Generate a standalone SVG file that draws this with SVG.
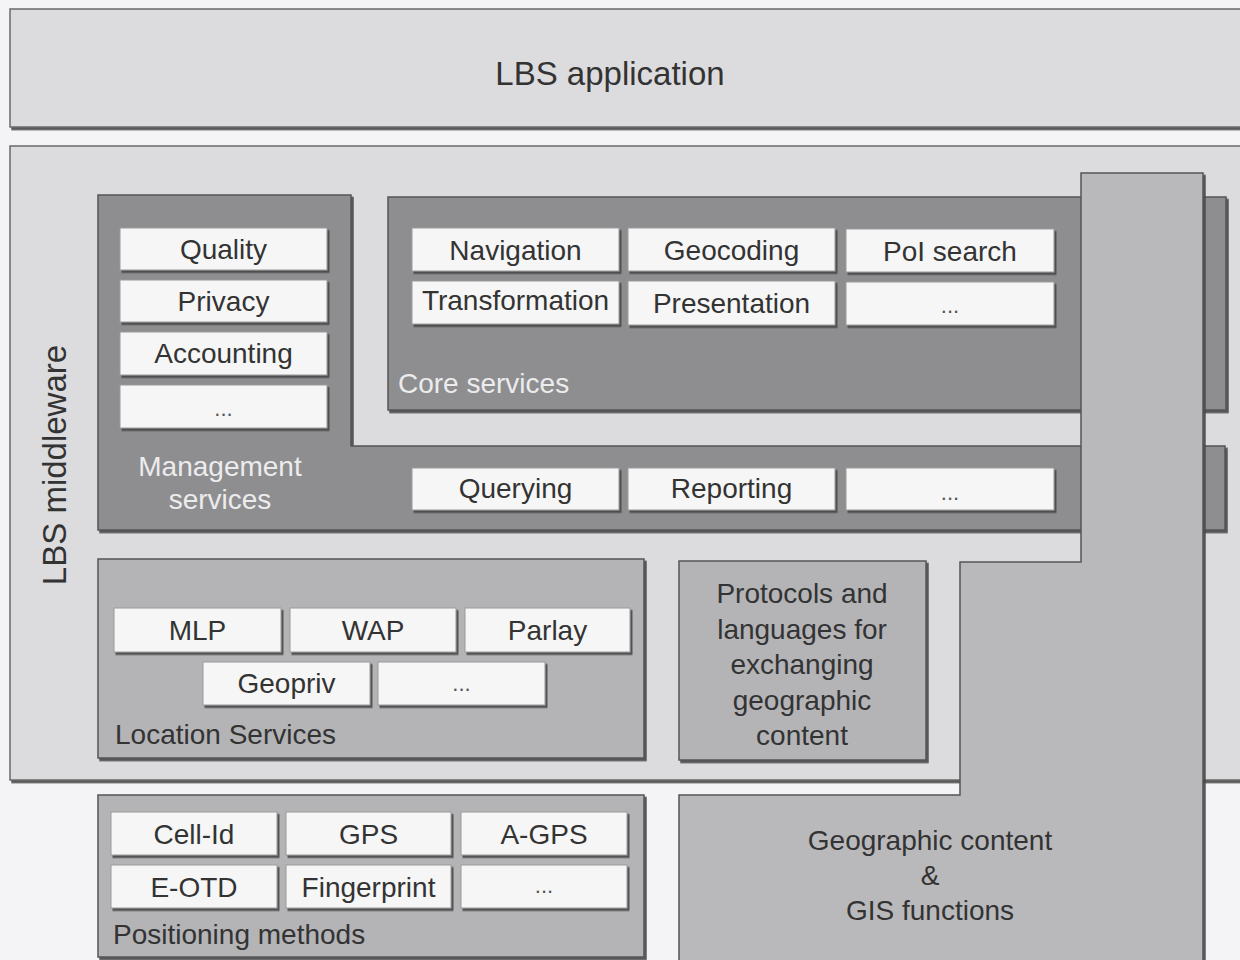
<svg xmlns="http://www.w3.org/2000/svg" width="1240" height="960" viewBox="0 0 1240 960">
<defs>
<filter id="sh" x="-5%" y="-5%" width="110%" height="120%">
<feDropShadow dx="2" dy="2.5" stdDeviation="0.4" flood-color="#4a4a4a" flood-opacity="0.9"/>
</filter>
<style>
text{font-family:"Liberation Sans",Arial,sans-serif;}
.layer{fill:#dcdcdf;stroke:#6a6a6a;stroke-width:1.5;filter:url(#sh);}
.dark{fill:#8e8e91;stroke:#555;stroke-width:1.5;filter:url(#sh);}
.mid{fill:#b4b4b7;stroke:#555;stroke-width:1.5;filter:url(#sh);}
.geo{fill:#b9b9bc;stroke:#555;stroke-width:1.5;filter:url(#sh);}
.item{fill:#f6f6f6;stroke:#9a9a9a;stroke-width:1;filter:url(#sh);}
.t{font-size:28px;fill:#333;text-anchor:middle;}
.d{font-size:22px;fill:#555;text-anchor:middle;}
.tl{font-size:28px;fill:#333;}
.tw{font-size:28px;fill:#ececec;}
.twm{font-size:28px;fill:#ececec;text-anchor:middle;}
.big{font-size:33px;fill:#333;text-anchor:middle;}
</style>
</defs>
<rect x="0" y="0" width="1240" height="960" fill="#f4f4f6"/>

<g id="lbs-application">
<rect class="layer" x="10" y="9" width="1250" height="118"/>
<text class="big" x="610" y="85">LBS application</text>
</g>

<g id="lbs-middleware">
<rect class="layer" x="10" y="146" width="1250" height="634"/>
<text class="big" transform="translate(66,465) rotate(-90)">LBS middleware</text>
</g>

<g id="management-services">
<path class="dark" d="M98,195 H351 V446 H1225 V530 H98 Z"/>
<text class="twm" x="220" y="476">Management</text>
<text class="twm" x="220" y="509">services</text>
<rect class="item" x="120" y="228" width="207" height="42"/>
<text class="t" x="223.5" y="259">Quality</text>
<rect class="item" x="120" y="280" width="207" height="42"/>
<text class="t" x="223.5" y="311">Privacy</text>
<rect class="item" x="120" y="332" width="207" height="43"/>
<text class="t" x="223.5" y="363">Accounting</text>
<rect class="item" x="120" y="385" width="207" height="43"/>
<text class="d" x="223.5" y="416">...</text>
<rect class="item" x="412" y="468" width="207" height="42"/>
<text class="t" x="515.5" y="498">Querying</text>
<rect class="item" x="628" y="468" width="207" height="42"/>
<text class="t" x="731.5" y="498">Reporting</text>
<rect class="item" x="846" y="468" width="208" height="42"/>
<text class="d" x="950" y="500">...</text>
</g>

<g id="core-services">
<rect class="dark" x="388" y="197" width="838" height="213"/>
<text class="tw" x="398" y="393">Core services</text>
<rect class="item" x="412" y="228" width="207" height="43"/>
<text class="t" x="515.5" y="260">Navigation</text>
<rect class="item" x="628" y="228" width="207" height="43"/>
<text class="t" x="731.5" y="260">Geocoding</text>
<rect class="item" x="846" y="229" width="208" height="43"/>
<text class="t" x="950" y="261">PoI search</text>
<rect class="item" x="412" y="281" width="207" height="43"/>
<text class="t" x="515.5" y="310">Transformation</text>
<rect class="item" x="628" y="281" width="207" height="44"/>
<text class="t" x="731.5" y="313">Presentation</text>
<rect class="item" x="846" y="282" width="208" height="43"/>
<text class="d" x="950" y="313">...</text>
</g>

<g id="location-services">
<rect class="mid" x="98" y="559" width="546" height="199"/>
<text class="tl" x="115" y="744">Location Services</text>
<rect class="item" x="114" y="608" width="167" height="44"/>
<text class="t" x="197.5" y="640">MLP</text>
<rect class="item" x="290" y="608" width="166" height="44"/>
<text class="t" x="373" y="640">WAP</text>
<rect class="item" x="465" y="608" width="165" height="44"/>
<text class="t" x="547.5" y="640">Parlay</text>
<rect class="item" x="203" y="662" width="167" height="43"/>
<text class="t" x="286.5" y="693">Geopriv</text>
<rect class="item" x="378" y="662" width="167" height="43"/>
<text class="d" x="461.5" y="691">...</text>
</g>

<g id="protocols">
<rect class="mid" x="679" y="561" width="247" height="199"/>
<text class="t" x="802" y="603">Protocols and</text>
<text class="t" x="802" y="639">languages for</text>
<text class="t" x="802" y="674">exchanging</text>
<text class="t" x="802" y="710">geographic</text>
<text class="t" x="802" y="745">content</text>
</g>

<g id="geographic-content">
<path class="geo" d="M1081,173 H1203 V962 H679 V795 H960 V562 H1081 Z"/>
<text class="t" x="930" y="850">Geographic content</text>
<text class="t" x="930" y="885">&amp;</text>
<text class="t" x="930" y="920">GIS functions</text>
</g>

<g id="positioning-methods">
<rect class="mid" x="98" y="795" width="546" height="162"/>
<text class="tl" x="113" y="944">Positioning methods</text>
<rect class="item" x="111" y="812" width="166" height="43"/>
<text class="t" x="194" y="844">Cell-Id</text>
<rect class="item" x="286" y="812" width="165" height="43"/>
<text class="t" x="368.5" y="844">GPS</text>
<rect class="item" x="461" y="812" width="166" height="43"/>
<text class="t" x="544" y="844">A-GPS</text>
<rect class="item" x="111" y="865" width="166" height="43"/>
<text class="t" x="194" y="897">E-OTD</text>
<rect class="item" x="286" y="865" width="165" height="43"/>
<text class="t" x="368.5" y="897">Fingerprint</text>
<rect class="item" x="461" y="865" width="166" height="43"/>
<text class="d" x="544" y="893">...</text>
</g>

<g id="connectors"></g>
</svg>
